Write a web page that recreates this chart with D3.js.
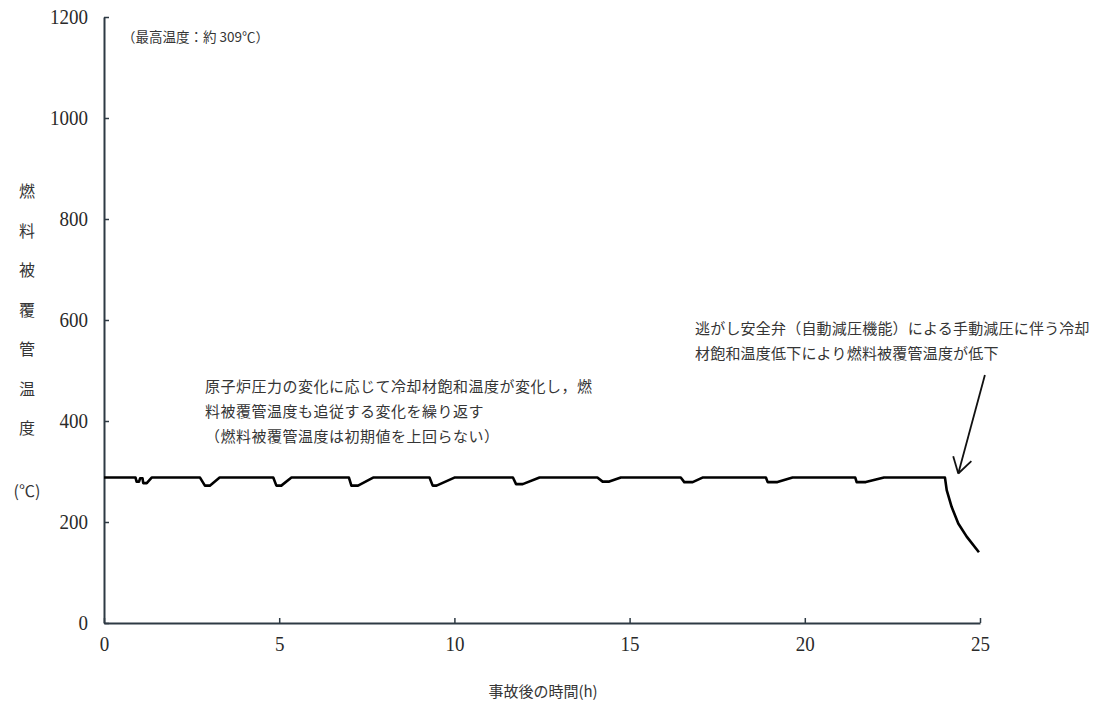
<!DOCTYPE html>
<html>
<head>
<meta charset="utf-8">
<script src="https://cdn.jsdelivr.net/npm/d3@7"></script>
<style>
  html, body { margin: 0; padding: 0; background: #fff; }
  svg { display: block; }
  .jp { font-family: "Noto Sans CJK JP", "Noto Sans", sans-serif; fill: #353535; }
  svg .tick text { font-family: "Liberation Serif", "DejaVu Serif", "Times New Roman", serif !important; }
</style>
</head>
<body>
<svg id="chart" width="1101" height="713"></svg>
<script>
// ---- data ----
const timeH = [0, 0.90, 0.93, 1.00, 1.03, 1.10, 1.12, 1.22, 1.36,
  2.74, 2.88, 3.02, 3.30,
  4.83, 4.92, 5.06, 5.35,
  6.99, 7.06, 7.25, 7.68,
  9.29, 9.38, 9.49, 10.00,
  11.67, 11.76, 11.95, 12.43,
  14.08, 14.23, 14.42, 14.75,
  16.46, 16.56, 16.80, 17.08,
  18.89, 18.94, 19.22, 19.65,
  21.44, 21.48, 21.74, 22.26,
  24.00, 24.05, 24.19, 24.38, 24.62, 24.97];
const cladTemp = [288, 288, 280, 280, 286.5, 286.5, 277, 277, 288,
  288, 272, 272, 288,
  288, 272, 272, 288,
  288, 272, 272, 288,
  288, 272, 272, 288,
  288, 275, 275, 288,
  288, 280, 280, 288,
  288, 279, 279, 288,
  288, 279, 279, 288,
  288, 279, 279, 288,
  288, 263, 230, 197, 171, 140];
const xTicks = [0, 5, 10, 15, 20, 25];
const yTicks = [0, 200, 400, 600, 800, 1000, 1200];
const yLabelChars = ["燃", "料", "被", "覆", "管", "温", "度"];
const yUnit = "(℃)";
const xLabel = "事故後の時間(h)";
const peakNote = "（最高温度：約 309℃）";
const note1 = ["原子炉圧力の変化に応じて冷却材飽和温度が変化し，燃",
               "料被覆管温度も追従する変化を繰り返す",
               "（燃料被覆管温度は初期値を上回らない）"];
const note2 = ["逃がし安全弁（自動減圧機能）による手動減圧に伴う冷却",
               "材飽和温度低下により燃料被覆管温度が低下"];
// arrow in data coordinates: [tail], [tip]
const arrowTail = [25.14, 491];
const arrowTip = [24.38, 296];

// ---- layout ----
const svg = d3.select("#chart");
const m = { left: 104, top: 17, right: 121, bottom: 90 };
const W = 1101 - m.left - m.right;   // 876
const H = 713 - m.top - m.bottom;    // 606
const g = svg.append("g").attr("transform", `translate(${m.left},${m.top})`);

const x = d3.scaleLinear().domain([0, 25]).range([0, W]);
const y = d3.scaleLinear().domain([0, 1200]).range([H, 0]);

const serif = '"Liberation Serif", "DejaVu Serif", serif';

// axes
const xAxis = g.append("g").attr("transform", `translate(0,${H})`)
  .call(d3.axisBottom(x).tickValues(xTicks).tickFormat(d3.format("d"))
    .tickSizeInner(-5).tickSizeOuter(0).tickPadding(13));
const yAxis = g.append("g")
  .call(d3.axisLeft(y).tickValues(yTicks).tickFormat(d3.format("d"))
    .tickSizeInner(-5).tickSizeOuter(0).tickPadding(16));
[xAxis, yAxis].forEach(a => {
  a.attr("font-family", null).style("font-family", serif);
  a.select(".domain").attr("stroke", "#2e3a44").attr("stroke-width", 2);
  a.selectAll(".tick line").attr("stroke", "#2e3a44").attr("stroke-width", 1.5);
  a.selectAll(".tick text")
    .style("font-family", serif)
    .style("font-size", "21px")
    .attr("fill", "#2a2a2a")
    .attr("textLength", d => String(d).length * 9.5)
    .attr("lengthAdjust", "spacingAndGlyphs");
});

// line
const line = d3.line().x((d, i) => x(timeH[i])).y(d => y(d));
g.append("path").datum(cladTemp)
  .attr("fill", "none").attr("stroke", "#000").attr("stroke-width", 2.6)
  .attr("stroke-linejoin", "round")
  .attr("d", line);

// y-axis label (vertical stacked)
yLabelChars.forEach((c, i) => {
  svg.append("text").attr("class", "jp").attr("x", 27).attr("y", 190 + i * 39.5)
    .attr("text-anchor", "middle").attr("dominant-baseline", "central")
    .attr("font-size", 16).text(c);
});
svg.append("text").attr("class", "jp").attr("x", 27).attr("y", 490)
  .attr("text-anchor", "middle").attr("dominant-baseline", "central")
  .attr("font-size", 16).text(yUnit);

// x-axis label
svg.append("text").attr("class", "jp").attr("x", 543).attr("y", 690)
  .attr("text-anchor", "middle").attr("dominant-baseline", "central")
  .attr("font-size", 15).text(xLabel);

// peak note
svg.append("text").attr("class", "jp").attr("x", 122).attr("y", 36)
  .attr("dominant-baseline", "central").attr("font-size", 13.5).text(peakNote);

// note 1
note1.forEach((t, i) => {
  svg.append("text").attr("class", "jp").attr("x", 205).attr("y", 385 + i * 25)
    .attr("dominant-baseline", "central").attr("font-size", 15)
    .attr("letter-spacing", 0.5).text(t);
});
// note 2
note2.forEach((t, i) => {
  svg.append("text").attr("class", "jp").attr("x", 695).attr("y", 327 + i * 25)
    .attr("dominant-baseline", "central").attr("font-size", 15)
    .attr("letter-spacing", 0.2).text(t);
});

// arrow
const tx = x(arrowTip[0]), ty = y(arrowTip[1]);
const sx = x(arrowTail[0]), sy = y(arrowTail[1]);
g.append("line").attr("x1", sx).attr("y1", sy).attr("x2", tx).attr("y2", ty)
  .attr("stroke", "#111").attr("stroke-width", 1.8);
const ang = Math.atan2(ty - sy, tx - sx);
const headLen = 18, spread = 0.55;
[ang + Math.PI - spread, ang + Math.PI + spread].forEach(a => {
  g.append("line").attr("x1", tx).attr("y1", ty)
    .attr("x2", tx + headLen * Math.cos(a)).attr("y2", ty + headLen * Math.sin(a))
    .attr("stroke", "#111").attr("stroke-width", 1.8);
});
</script>
</body>
</html>
